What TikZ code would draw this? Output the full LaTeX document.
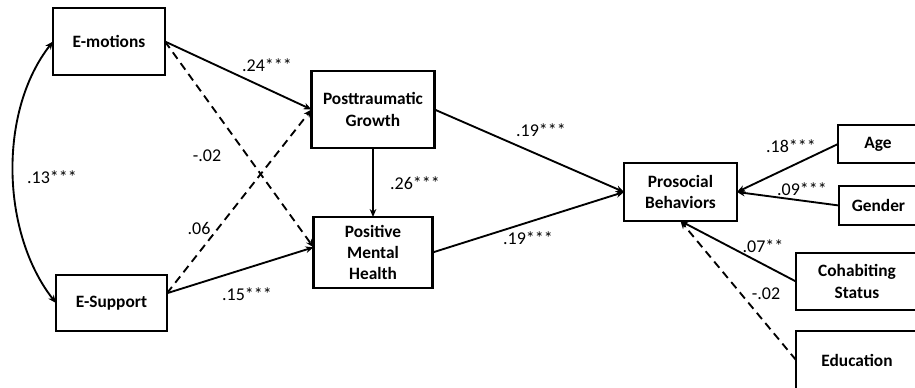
\documentclass[tikz,border=0pt]{standalone}
\usepackage{fontspec}
\setmainfont{Carlito}
\usetikzlibrary{arrows.meta}

\begin{document}
\begin{tikzpicture}[x=0.75pt,y=-0.75pt,
  box/.style={draw,line width=1.8pt,inner sep=0pt,outer sep=0pt,align=center,
    font=\bfseries\fontsize{13}{16}\selectfont},
  arr/.style={line width=1.4pt,-{Stealth[length=6pt,width=5pt]}},
  dasharr/.style={arr,dash pattern=on 6pt off 4pt},
  coef/.style={font=\fontsize{13.5}{15}\selectfont,inner sep=0pt}]
\clip (0,0) rectangle (915,387);
% variables
\node[box,minimum width=84pt,minimum height=50.25pt] (emo) at (109,41.5) {E-motions};
\node[box,minimum width=83.25pt,minimum height=42pt] (sup) at (111.5,303) {E-Support};
\node[box,minimum width=92.25pt,minimum height=57.75pt] (ptg) at (373,109.5) {Posttraumatic\\Growth};
\node[box,minimum width=89.25pt,minimum height=53.25pt] (pmh) at (373,252.5) {Positive\\Mental\\Health};
\node[box,minimum width=84.75pt,minimum height=43.5pt] (pro) at (680.5,192) {Prosocial\\Behaviors};
% covariates
\node[box,minimum width=60pt,minimum height=28.5pt] (age) at (878,144) {Age};
\node[box,minimum width=59.25pt,minimum height=29.25pt] (gen) at (878.5,205.5) {Gender};
\node[box,minimum width=91.5pt,minimum height=42.75pt] (coh) at (857,281.5) {Cohabiting\\Status};
\node[box,minimum width=91.5pt,minimum height=43.5pt] (edu) at (857,360) {Education};
% paths
\draw[arr,{Stealth[length=6pt,width=5pt]}-{Stealth[length=6pt,width=5pt]}] (emo.west) .. controls +(-55,70) and +(-55,-70) .. (sup.west);
\draw[arr] (emo.east) -- (ptg.west);
\draw[dasharr] (emo.east) -- (pmh.175);
\draw[dasharr] (sup.10) -- (ptg.west);
\draw[arr] (sup.10) -- (pmh.175);
\draw[arr] (ptg.south) -- (pmh.north);
\draw[arr] (ptg.east) -- (pro.west);
\draw[arr] (pmh.east) -- (pro.west);
\draw[arr] (age.west) -- (pro.east);
\draw[arr] (gen.west) -- (pro.east);
\draw[arr] (coh.west) -- (pro.south);
\draw[dasharr] (edu.west) -- (pro.south);
% coefficients
\node[coef] (c1) at (52,177) {.13***};
\node[coef] (c2) at (267,65) {.24***};
\node[coef] (c3) at (207,156) {-.02};
\node[coef] (c4) at (199,228) {.06};
\node[coef] (c5) at (247,294) {.15***};
\node[coef] (c6) at (415,183) {.26***};
\node[coef] (c7) at (541,130) {.19***};
\node[coef] (c8) at (528,238) {.19***};
\node[coef] (c9) at (791,146) {.18***};
\node[coef] (c10) at (802,189) {.09***};
\node[coef] (c11) at (763,246) {.07**};
\node[coef] (c12) at (766,294) {-.02};
\end{tikzpicture}
\end{document}
